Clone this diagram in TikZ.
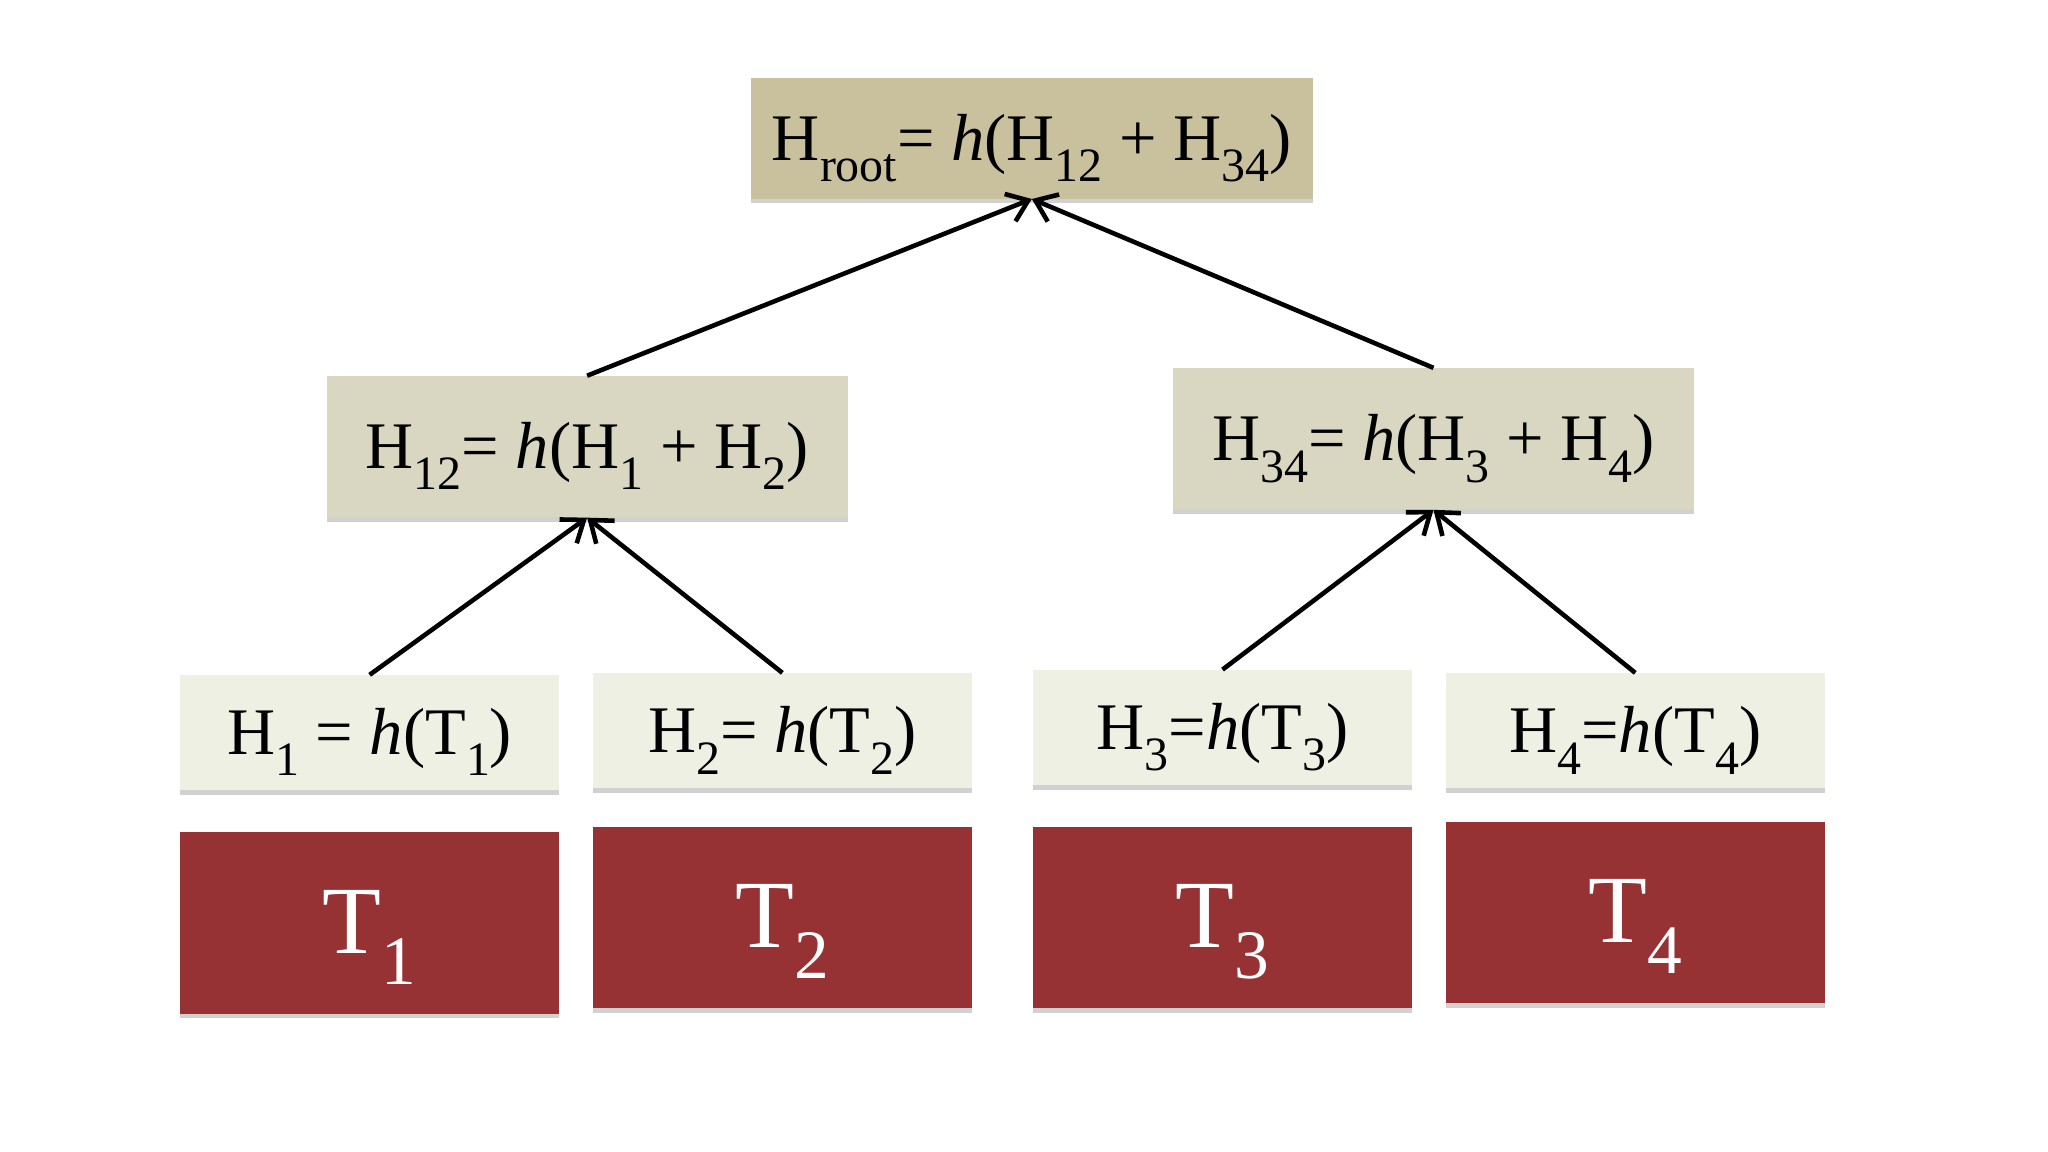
\documentclass[tikz,border=0pt]{standalone}
\usepackage{fontspec}
\setmainfont{Liberation Serif}
\usepackage{graphicx}
\usetikzlibrary{arrows.meta,shadows}
\newcommand\lo[1]{\raisebox{-0.32em}{\scalebox{0.72}{#1}}}
\definecolor{roottan}{HTML}{C9C19E}
\definecolor{midtan}{HTML}{D9D6C1}
\definecolor{leafg}{HTML}{EDF0E2}
\definecolor{tred}{HTML}{963234}
\tikzset{
 box/.style={inner sep=0pt, font=\fontsize{29}{32}\selectfont, text depth=0.1em,
   drop shadow={shadow xshift=0cm, shadow yshift=-0.07cm, fill=black!30, opacity=0.6}},
 rootbox/.style={box, fill=roottan, minimum width=8.6cm, minimum height=1.84cm},
 midbox/.style={box, fill=midtan, minimum width=7.98cm, minimum height=2.16cm},
 leafbox/.style={box, fill=leafg, minimum width=5.8cm, minimum height=1.76cm},
 tbox/.style={box, fill=tred, text=white, minimum width=5.8cm, minimum height=2.78cm, font=\fontsize{42}{46}\selectfont},
 link/.style={line width=2pt, -{Straight Barb[length=0.3cm,width=0.45cm]}}
}
\begin{document}
\begin{tikzpicture}[x=0.02cm,y=-0.02cm]
\useasboundingbox (0,0) rectangle (1568,882);
\node[rootbox] (r) at (790,106) {H\lo{root}= \textit{h}(H\lo{12} + H\lo{34})};
\node[midbox] (h12) at (449.5,342) {H\lo{12}= \textit{h}(H\lo{1} + H\lo{2})};
\node[midbox] (h34) at (1097.5,336) {H\lo{34}= \textit{h}(H\lo{3} + H\lo{4})};
\node[leafbox] (h1) at (283,561) {H\lo{1} = \textit{h}(T\lo{1})};
\node[leafbox] (h2) at (599,559.5) {H\lo{2}= \textit{h}(T\lo{2})};
\node[leafbox] (h3) at (936,557) {H\lo{3}=\textit{h}(T\lo{3})};
\node[leafbox] (h4) at (1252,559.5) {H\lo{4}=\textit{h}(T\lo{4})};
\node[tbox] (t1) at (283,706.5) {T\lo{1}};
\node[tbox] (t2) at (599,702.5) {T\lo{2}};
\node[tbox] (t3) at (936,702.5) {T\lo{3}};
\node[tbox] (t4) at (1252,698.5) {T\lo{4}};
\draw[link] (h12.north) -- (r.south);
\draw[link] (h34.north) -- (r.south);
\draw[link] (h1.north) -- (h12.south);
\draw[link] (h2.north) -- (h12.south);
\draw[link] (h3.north) -- (h34.south);
\draw[link] (h4.north) -- (h34.south);
\end{tikzpicture}
\end{document}
